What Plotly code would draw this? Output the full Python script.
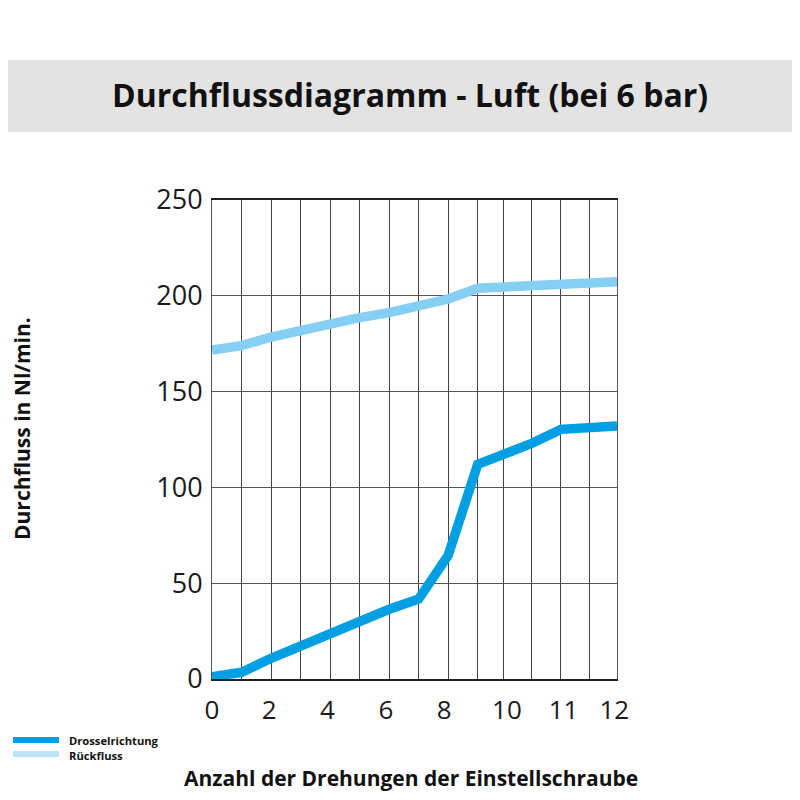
import plotly.graph_objects as go

# ---- data ----
# vertical grid line positions (axis units; one unit = one standard grid step)
grid_x = [0, 1, 2, 3, 4, 5, 6, 7, 8, 9, 9.86, 10.83, 11.82, 12.78, 13.72]
# tick labels of the x axis and their positions on the axis
tick_pos = [0, 1.94, 3.91, 5.89, 7.87, 9.99, 11.91, 13.63]
tick_text = ["0", "2", "4", "6", "8", "10", "11", "12"]

# series vertices sit on the grid lines
drossel_x = grid_x
drossel_y = [1.2, 3.5, 10.8, 17.4, 23.8, 30.4, 36.4, 41.7, 64.5, 112, 117, 123, 130.3, 131.2, 132]
rueck_x = grid_x
rueck_y = [171.7, 174, 178.5, 182, 184.8, 188.6, 191.2, 194.7, 198.3, 203.9, 204.4, 205.3, 206, 206.7, 207.4]

series_names = ["Drosselrichtung", "Rückfluss"]

DARK = "#009fe3"
LIGHT = "#85cff5"
LIGHT_KEY = "#bde3f8"
FONT = "Open Sans"

OFF = 8  # page body margin of the html page
W, H = 800, 800
ML, MR, MT, MB = 212 - OFF, 800 - 617 + OFF, 200 - OFF, 800 - 679 + OFF
PW, PH = W - ML - MR, H - MT - MB


def px_x(p):
    return (p - OFF - ML) / PW


def px_y(p):
    return (H - MB - (p - OFF)) / PH


fig = go.Figure()
fig.add_trace(go.Scatter(x=drossel_x, y=drossel_y, mode="lines", name=series_names[0],
                         line=dict(color=DARK, width=9.5)))
fig.add_trace(go.Scatter(x=rueck_x, y=rueck_y, mode="lines", name=series_names[1],
                         line=dict(color=LIGHT, width=9.5)))

fig.update_layout(
    width=W, height=H,
    margin=dict(l=ML, r=MR, t=MT, b=MB, pad=0),
    paper_bgcolor="white", plot_bgcolor="white",
    font=dict(family=FONT, color="#1a1a1a"),
    showlegend=False,
    xaxis=dict(range=[0, 13.72], tickmode="array", tickvals=tick_pos, ticktext=tick_text,
               showgrid=False, zeroline=False,
               ticks="outside", ticklen=7, tickcolor="rgba(0,0,0,0)",
               tickfont=dict(family=FONT, size=26, color="#1a1a1a"),
               showline=True, linecolor="#222", linewidth=1.5, mirror=True,
               minor=dict(tickmode="array", tickvals=grid_x, showgrid=True,
                          gridcolor="#444", gridwidth=1, ticks="")),
    yaxis=dict(range=[0, 250], tickmode="linear", tick0=0, dtick=50,
               showgrid=True, gridcolor="#555", gridwidth=1, zeroline=False,
               ticks="outside", ticklen=3, tickcolor="rgba(0,0,0,0)",
               tickfont=dict(family=FONT, size=27, color="#1a1a1a"),
               showline=True, linecolor="#555", linewidth=1, mirror=True),
)

# title band
fig.add_shape(type="rect", xref="paper", yref="paper",
              x0=px_x(-5), x1=px_x(815), y0=px_y(132), y1=px_y(60),
              fillcolor="#e3e3e3", line=dict(width=0), layer="below")
fig.add_annotation(text="<b>Durchflussdiagramm - Luft (bei 6 bar)</b>", xref="paper", yref="paper",
                   x=px_x(410), y=px_y(95), showarrow=False, xanchor="center", yanchor="middle",
                   font=dict(family=FONT, size=32, color="#111"))
fig.add_annotation(text="<b>Anzahl der Drehungen der Einstellschraube</b>", xref="paper", yref="paper",
                   x=px_x(411), y=px_y(778), showarrow=False, xanchor="center", yanchor="middle",
                   font=dict(family=FONT, size=21, color="#111"))
fig.add_annotation(text="<b>Durchfluss in Nl/min.</b>", xref="paper", yref="paper",
                   x=px_x(22), y=px_y(429), showarrow=False, xanchor="center", yanchor="middle",
                   textangle=-90, font=dict(family=FONT, size=21, color="#111"))

# legend (key swatches + labels)
for col, yk in [(DARK, 740), (LIGHT_KEY, 754)]:
    fig.add_shape(type="line", xref="paper", yref="paper",
                  x0=px_x(13), x1=px_x(59), y0=px_y(yk), y1=px_y(yk),
                  line=dict(color=col, width=6))
fig.add_annotation(text="<br>".join("<b>" + n + "</b>" for n in series_names),
                   xref="paper", yref="paper", align="left",
                   x=px_x(67), y=px_y(747.5), showarrow=False, xanchor="left", yanchor="middle",
                   font=dict(family=FONT, size=11.2, color="#111"))

fig.write_html("out.html")
